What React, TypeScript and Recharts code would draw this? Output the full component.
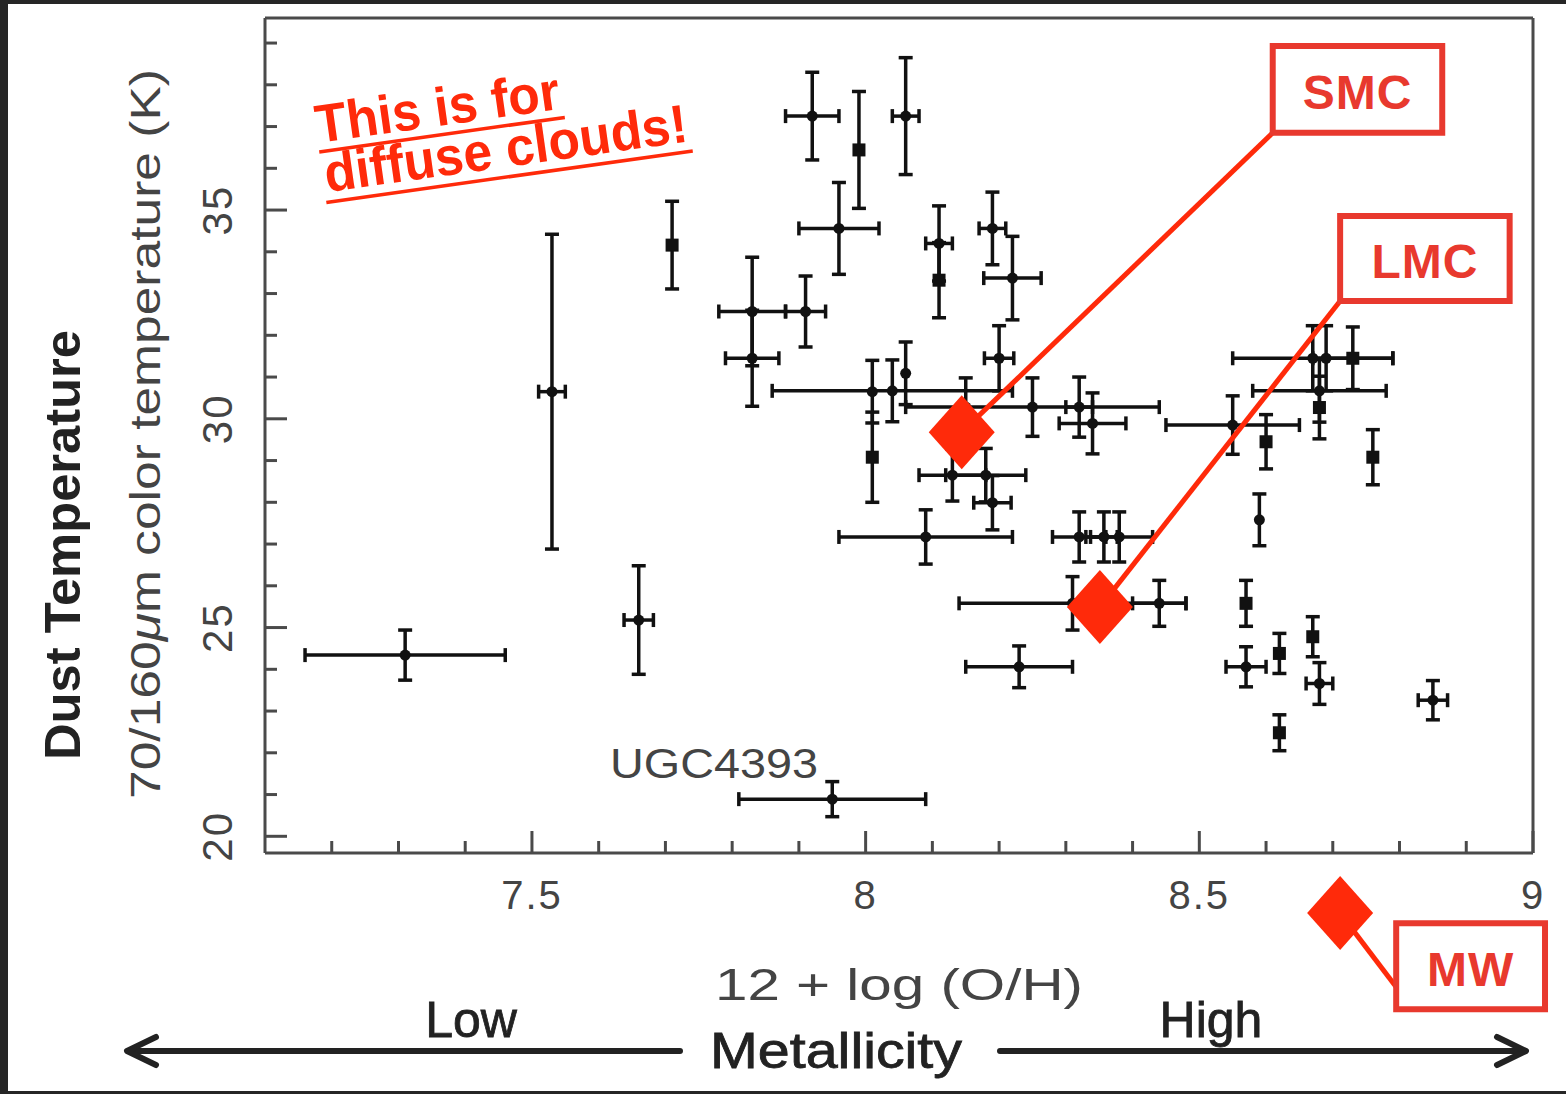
import React from 'react';
import {
  ScatterChart,
  Scatter,
  XAxis,
  YAxis,
  ErrorBar,
  ReferenceArea,
  ReferenceLine,
  ReferenceDot,
} from 'recharts';

// galaxies drawn with a round marker
const circleMetallicity = [
  7.31, 7.53, 7.66, 7.92, 8.06, 7.96, 7.83, 7.83, 7.91, 8.11, 8.19, 8.22, 8.2, 8.06, 8.01, 8.04,
  8.25, 8.32, 8.34, 8.15, 8.13, 8.18, 8.19, 8.09, 8.32, 8.357, 8.38, 8.31, 8.44, 8.23, 7.95,
  8.55, 8.67, 8.69, 8.68, 8.59, 8.57, 8.68, 8.85,
];
const circleTemperature = [
  24.34, 30.65, 25.18, 37.25, 37.25, 34.56, 32.57, 31.45, 32.57, 34.2, 34.56, 33.37, 31.45, 31.09,
  30.65, 30.67, 30.28, 30.28, 29.89, 30.28, 28.65, 28.65, 27.99, 27.17, 27.17, 27.17, 27.17, 25.58,
  25.58, 24.06, 20.89, 29.85, 31.45, 31.45, 30.67, 27.58, 24.06, 23.66, 23.26,
];
const circleMetallicityErr = [
  0.15, 0.02, 0.022, 0.04, 0.02, 0.06, 0.05, 0.04, 0.03, 0.02, 0.02, 0.043, 0.022, 0, 0, 0.18,
  0.19, 0.02, 0.05, 0, 0.05, 0.06, 0.028, 0.13, 0.04, 0.02, 0.05, 0.17, 0.04, 0.08, 0.14,
  0.1, 0.12, 0, 0.1, 0, 0.03, 0.02, 0.022,
];
const circleTemperatureErr = [
  0.6, 3.77, 1.3, 1.05, 1.4, 1.1, 1.3, 1.15, 0.85, 0.9, 0.87, 1.0, 0.78, 0.75, 0.75, 0.74,
  0.7, 0.72, 0.73, 0.7, 0.62, 0.64, 0.65, 0.65, 0.6, 0.6, 0.6, 0.64, 0.55, 0.5, 0.42,
  0.7, 0.78, 0.78, 0.75, 0.62, 0.48, 0.5, 0.47,
];

// galaxies drawn with a square marker
const squareMetallicity = [7.71, 7.99, 8.11, 8.01, 8.6, 8.73, 8.68, 8.76, 8.57, 8.62, 8.67, 8.62];
const squareTemperature = [34.16, 36.44, 33.32, 29.08, 29.45, 31.45, 30.27, 29.08, 25.58, 24.38, 24.78, 22.48];
const squareMetallicityErr = [0, 0, 0, 0, 0, 0.06, 0, 0, 0, 0, 0, 0];
const squareTemperatureErr = [1.05, 1.4, 0.9, 1.08, 0.65, 0.75, 0.75, 0.66, 0.55, 0.48, 0.48, 0.43];

// Magellanic clouds and Milky Way
const cloudNames = ['SMC', 'LMC', 'MW'];
const cloudMetallicity = [8.144, 8.351, 8.711];
const cloudTemperature = [29.68, 25.49, 18.16];
const boxLeft = [8.61, 8.711, 8.795];
const boxRight = [8.864, 8.965, 9.018];
const boxBottom = [36.85, 32.82, 15.86];
const boxTop = [38.93, 34.86, 17.92];
const leaderX = [8.61, 8.711, 8.795];
const leaderY = [36.85, 32.82, 16.39];

const xTicks = [7.2, 7.3, 7.4, 7.5, 7.6, 7.7, 7.8, 7.9, 8, 8.1, 8.2, 8.3, 8.4, 8.5, 8.6, 8.7, 8.8, 8.9, 9];
const xLabelTicks = [7.5, 8, 8.5, 9];
const yTicks = [20, 21, 22, 23, 24, 25, 26, 27, 28, 29, 30, 31, 32, 33, 34, 35, 36, 37, 38, 39];
const yLabelTicks = [20, 25, 30, 35];

const circleData = circleMetallicity.map((x, i) => ({
  x,
  y: circleTemperature[i],
  ex: circleMetallicityErr[i],
  ey: circleTemperatureErr[i],
}));
const squareData = squareMetallicity.map((x, i) => ({
  x,
  y: squareTemperature[i],
  ex: squareMetallicityErr[i],
  ey: squareTemperatureErr[i],
}));
const cloudData = cloudNames.map((name, i) => ({ name, x: cloudMetallicity[i], y: cloudTemperature[i] }));

const RED = '#ff2a0a';
const BOX_RED = '#e8392e';
const AXIS = '#4a4a4a';
const FONT = '"Liberation Sans", Arial, sans-serif';
const MAJOR = 22;
const MINOR = 12;

const DotShape = (p: any) => <circle cx={p.cx} cy={p.cy} r={5.5} fill="#111" />;
const SquareShape = (p: any) => <rect x={p.cx - 6.5} y={p.cy - 6.5} width={13} height={13} fill="#111" />;
const Diamond = (p: any) => (
  <polygon
    points={`${p.cx},${p.cy - 37} ${p.cx + 33},${p.cy} ${p.cx},${p.cy + 37} ${p.cx - 33},${p.cy}`}
    fill={RED}
  />
);

const BottomTick = ({ x, y, payload }: any) => {
  const major = xLabelTicks.includes(payload.value);
  return (
    <g>
      <line x1={x} y1={y} x2={x} y2={y - (major ? MAJOR : MINOR)} stroke={AXIS} strokeWidth={3} />
      {major && (
        <text x={x} y={y + 56} textAnchor="middle" fontSize={40} fill="#444" fontFamily={FONT} letterSpacing={2}>
          {payload.value}
        </text>
      )}
    </g>
  );
};
const TopTick = ({ x, y, payload }: any) => {
  const major = xLabelTicks.includes(payload.value);
  return <line x1={x} y1={y} x2={x} y2={y + (major ? MAJOR : MINOR)} stroke={AXIS} strokeWidth={3} />;
};
const LeftTick = ({ x, y, payload }: any) => {
  const major = yLabelTicks.includes(payload.value);
  return (
    <g>
      <line x1={x} y1={y} x2={x + (major ? MAJOR : MINOR)} y2={y} stroke={AXIS} strokeWidth={3} />
      {major && (
        <text
          transform={`translate(232, ${y}) rotate(-90)`}
          textAnchor="middle"
          fontSize={42}
          fill="#444"
          fontFamily={FONT}
          letterSpacing={2}
        >
          {payload.value}
        </text>
      )}
    </g>
  );
};
const RightTick = ({ x, y, payload }: any) => {
  const major = yLabelTicks.includes(payload.value);
  return <line x1={x} y1={y} x2={x - (major ? MAJOR : MINOR)} y2={y} stroke={AXIS} strokeWidth={3} />;
};

const BoxLabel = ({ viewBox, text }: any) => (
  <text
    x={viewBox.x + viewBox.width / 2}
    y={viewBox.y + viewBox.height / 2 + 3}
    textAnchor="middle"
    dominantBaseline="central"
    fontSize={48}
    fontWeight="bold"
    fill={BOX_RED}
    fontFamily={FONT}
    letterSpacing={1}
  >
    {text}
  </text>
);

export default function App() {
  return (
    <div style={{ position: 'absolute', left: 0, top: 0, width: 1566, height: 1094, background: '#262626' }}>
      <div style={{ position: 'absolute', left: 8, top: 4, width: 1558, height: 1087, background: '#fff' }} />
      <div style={{ position: 'absolute', left: 0, top: 0 }}>
        <ScatterChart width={1566} height={1094} margin={{ top: 17, right: 32, bottom: 240, left: 264 }}>
          <XAxis
            type="number"
            dataKey="x"
            domain={[7.1, 9]}
            ticks={xTicks}
            interval={0}
            height={1}
            tickSize={0}
            tickMargin={0}
            tick={BottomTick}
            axisLine={{ stroke: AXIS, strokeWidth: 3 }}
          />
          <XAxis
            xAxisId="top"
            orientation="top"
            type="number"
            dataKey="x"
            domain={[7.1, 9]}
            ticks={xTicks}
            interval={0}
            height={1}
            tickSize={0}
            tickMargin={0}
            tick={TopTick}
            axisLine={{ stroke: AXIS, strokeWidth: 3 }}
          />
          <YAxis
            type="number"
            dataKey="y"
            domain={[19.6, 39.6]}
            ticks={yTicks}
            interval={0}
            width={1}
            tickSize={0}
            tickMargin={0}
            tick={LeftTick}
            axisLine={{ stroke: AXIS, strokeWidth: 3 }}
          />
          <YAxis
            yAxisId="right"
            orientation="right"
            type="number"
            dataKey="y"
            domain={[19.6, 39.6]}
            ticks={yTicks}
            interval={0}
            width={1}
            tickSize={0}
            tickMargin={0}
            tick={RightTick}
            axisLine={{ stroke: AXIS, strokeWidth: 3 }}
          />
          <Scatter data={circleData} shape={DotShape} isAnimationActive={false}>
            <ErrorBar dataKey="ex" direction="x" width={7} stroke="#111" strokeWidth={3.5} />
            <ErrorBar dataKey="ey" direction="y" width={7} stroke="#111" strokeWidth={3.5} />
          </Scatter>
          <Scatter data={squareData} shape={SquareShape} isAnimationActive={false}>
            <ErrorBar dataKey="ex" direction="x" width={7} stroke="#111" strokeWidth={3.5} />
            <ErrorBar dataKey="ey" direction="y" width={7} stroke="#111" strokeWidth={3.5} />
          </Scatter>
          {cloudData.map((c, i) => (
            <ReferenceLine
              key={`leader-${c.name}`}
              segment={[
                { x: c.x, y: c.y },
                { x: leaderX[i], y: leaderY[i] },
              ]}
              stroke={RED}
              strokeWidth={5}
              ifOverflow="visible"
              zIndex={700}
            />
          ))}
          {cloudData.map((c, i) => (
            <ReferenceArea
              key={`box-${c.name}`}
              x1={boxLeft[i]}
              x2={boxRight[i]}
              y1={boxBottom[i]}
              y2={boxTop[i]}
              fill="#fff"
              fillOpacity={1}
              stroke={BOX_RED}
              strokeWidth={6}
              ifOverflow="visible"
              zIndex={700}
              label={<BoxLabel text={c.name} />}
            />
          ))}
          <Scatter data={cloudData.slice(0, 2)} shape={Diamond} isAnimationActive={false} zIndex={800} />
          <ReferenceDot
            x={cloudData[2].x}
            y={cloudData[2].y}
            ifOverflow="visible"
            shape={Diamond}
            zIndex={800}
          />
        </ScatterChart>
      </div>
      <svg
        width={1566}
        height={1094}
        style={{ position: 'absolute', left: 0, top: 0, pointerEvents: 'none' }}
        fontFamily={FONT}
      >
        <text
          transform="translate(80, 545) rotate(-90)"
          textAnchor="middle"
          fontSize={50}
          fontWeight="bold"
          fill="#222"
          textLength={430}
          lengthAdjust="spacingAndGlyphs"
        >
          Dust Temperature
        </text>
        <text
          transform="translate(160, 434) rotate(-90)"
          textAnchor="middle"
          fontSize={42}
          fill="#444"
          textLength={730}
          lengthAdjust="spacingAndGlyphs"
        >
          70/160<tspan fontStyle="italic">μ</tspan>m color temperature (K)
        </text>
        <text x={899} y={1000} textAnchor="middle" fontSize={44} fill="#444" textLength={368} lengthAdjust="spacingAndGlyphs">
          12 + log (O/H)
        </text>
        <text x={610} y={778} fontSize={42} fill="#444" textLength={208} lengthAdjust="spacingAndGlyphs">
          UGC4393
        </text>
        <text x={471} y={1037} textAnchor="middle" fontSize={50} fill="#222" stroke="#222" strokeWidth={0.8}>
          Low
        </text>
        <text x={1211} y={1037} textAnchor="middle" fontSize={50} fill="#222" stroke="#222" strokeWidth={0.8}>
          High
        </text>
        <text
          x={836}
          y={1068}
          textAnchor="middle"
          fontSize={50}
          fill="#222"
          stroke="#222"
          strokeWidth={0.8}
          textLength={252}
          lengthAdjust="spacingAndGlyphs"
        >
          Metallicity
        </text>
        <g stroke="#222" strokeWidth={6} fill="none" strokeLinecap="round" strokeLinejoin="round">
          <line x1={128} y1={1051} x2={680} y2={1051} />
          <polyline points="156,1037 127,1051 156,1065" />
          <line x1={1000} y1={1051} x2={1525} y2={1051} />
          <polyline points="1497,1037 1526,1051 1497,1065" />
        </g>
        <g transform="rotate(-8, 318, 143)" fill={RED}>
          <text x={318} y={143} fontSize={54} fontWeight="bold" textLength={246} lengthAdjust="spacingAndGlyphs">
            This is for
          </text>
          <line x1={318} y1={152} x2={566} y2={152} stroke={RED} strokeWidth={3.5} />
          <text x={320} y={193} fontSize={54} fontWeight="bold" textLength={366} lengthAdjust="spacingAndGlyphs">
            diffuse clouds!
          </text>
          <line x1={318} y1={203} x2={688} y2={203} stroke={RED} strokeWidth={3.5} />
        </g>
      </svg>
    </div>
  );
}
